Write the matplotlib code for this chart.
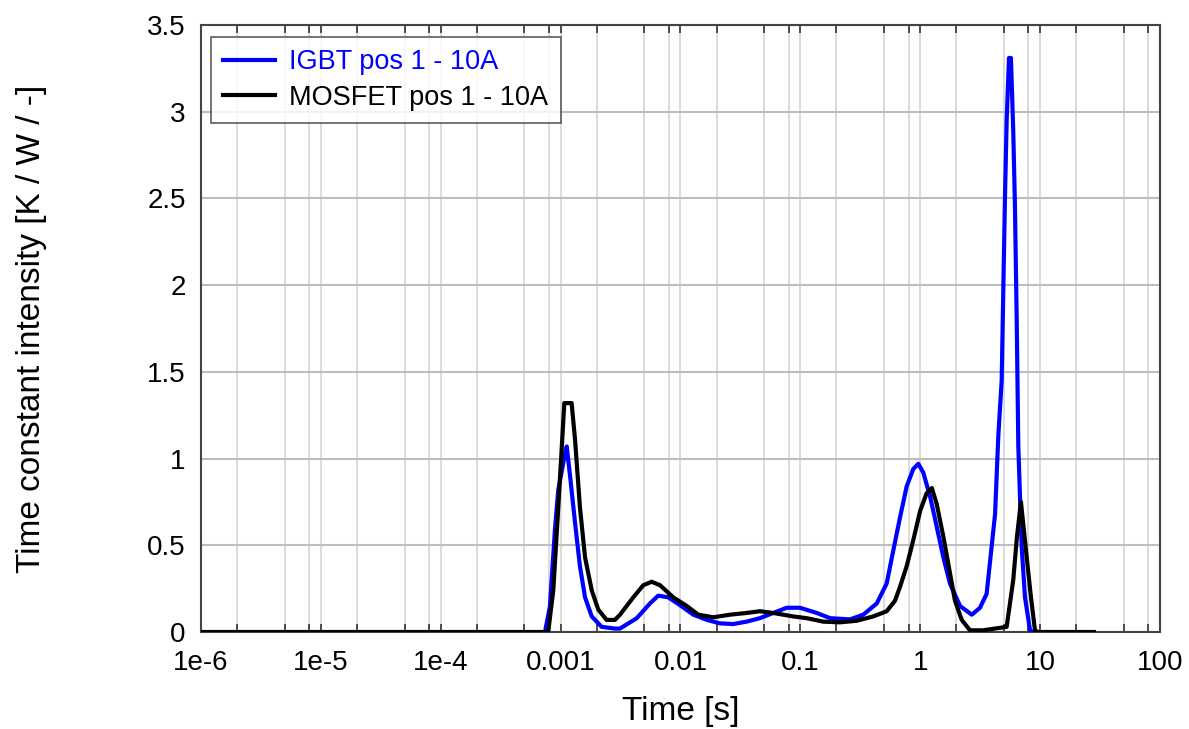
import numpy as np
import matplotlib
matplotlib.use("Agg")
import matplotlib.pyplot as plt
import matplotlib.ticker as ticker

plt.rcParams["font.family"] = ["Liberation Sans", "DejaVu Sans"]

# IGBT pos 1 - 10A  (time [s], intensity [K/W/-])
igbt_t = [1e-6, 7.41e-4, 8.14e-4, 8.97e-4, 9.57e-4, 1.09e-3, 1.125e-3, 1.20e-3, 1.32e-3,
          1.45e-3, 1.60e-3, 1.82e-3, 2.20e-3, 2.84e-3, 3.13e-3, 4.32e-3, 5.57e-3,
          6.53e-3, 7.91e-3, 9.91e-3, 1.28e-2, 1.66e-2, 2.14e-2, 2.75e-2, 3.56e-2,
          4.60e-2, 5.94e-2, 7.69e-2, 9.93e-2, 0.137, 0.177, 0.259, 0.335, 0.434,
          0.525, 0.596, 0.678, 0.771, 0.875, 0.964, 1.06, 1.21, 1.37, 1.56, 1.77,
          2.15, 2.69, 3.15, 3.58, 4.21, 4.48, 4.78, 5.09, 5.26, 5.50, 5.71, 5.97,
          6.17, 6.38, 6.58, 7.02, 7.48, 8.24, 8.73, 28]
igbt_y = [0, 0, 0.146, 0.59, 0.82, 1.03, 1.07, 0.90, 0.63,
          0.38, 0.20, 0.09, 0.03, 0.02, 0.02, 0.08, 0.165,
          0.21, 0.20, 0.155, 0.10, 0.07, 0.05, 0.046, 0.06,
          0.08, 0.11, 0.14, 0.14, 0.11, 0.08, 0.073, 0.10, 0.165,
          0.28, 0.47, 0.66, 0.84, 0.94, 0.97, 0.92, 0.78, 0.61, 0.43, 0.28,
          0.15, 0.10, 0.14, 0.22, 0.68, 1.13, 1.45, 2.5, 2.95, 3.31, 3.31, 2.89,
          2.45, 1.8, 1.07, 0.49, 0.2, 0.01, 0, 0]

# MOSFET pos 1 - 10A
mosfet_t = [1e-6, 7.88e-4, 8.69e-4, 9.57e-4, 1.02e-3, 1.074e-3, 1.236e-3, 1.32e-3,
            1.45e-3, 1.60e-3, 1.82e-3, 2.06e-3, 2.42e-3, 2.84e-3, 3.13e-3, 4.04e-3,
            4.90e-3, 5.75e-3, 6.75e-3, 8.71e-3, 1.13e-2, 1.41e-2, 1.88e-2, 2.59e-2,
            3.56e-2, 4.60e-2, 5.94e-2, 8.73e-2, 0.113, 0.155, 0.214, 0.295, 0.406,
            0.525, 0.615, 0.678, 0.771, 0.875, 1.0, 1.13, 1.25, 1.37, 1.56, 1.77,
            1.95, 2.22, 2.60, 3.34, 5.26, 5.97, 6.41, 6.92, 7.73, 8.39, 9.06, 9.6, 28]
mosfet_y = [0, 0, 0.24, 0.72, 1.05, 1.32, 1.32, 1.11,
            0.72, 0.43, 0.24, 0.13, 0.07, 0.07, 0.10, 0.20,
            0.27, 0.29, 0.27, 0.20, 0.15, 0.10, 0.085, 0.10,
            0.11, 0.12, 0.11, 0.09, 0.08, 0.06, 0.056, 0.065, 0.09,
            0.12, 0.18, 0.26, 0.38, 0.53, 0.70, 0.80, 0.83, 0.74, 0.55, 0.34,
            0.18, 0.07, 0.01, 0.01, 0.03, 0.30, 0.55, 0.75, 0.43, 0.2, 0.01, 0, 0]

x_ticks = [1e-6, 1e-5, 1e-4, 1e-3, 1e-2, 1e-1, 1, 10, 100]
x_labels = ["1e-6", "1e-5", "1e-4", "0.001", "0.01", "0.1", "1", "10", "100"]
y_ticks = [0, 0.5, 1, 1.5, 2, 2.5, 3, 3.5]
y_labels = ["0", "0.5", "1", "1.5", "2", "2.5", "3", "3.5"]

fig = plt.figure(figsize=(11.89, 7.29), dpi=100)
ax = fig.add_axes([0.169, 0.133, 0.8066, 0.8327])

ax.plot(igbt_t, igbt_y, color="#0000ff", lw=3.0, label="IGBT pos 1 - 10A", zorder=3)
ax.plot(mosfet_t, mosfet_y, color="black", lw=3.0, label="MOSFET pos 1 - 10A", zorder=4)

ax.set_xscale("log")
ax.set_xlim(1e-6, 100)
ax.set_ylim(0, 3.5)

ax.xaxis.set_major_locator(ticker.FixedLocator(x_ticks))
ax.xaxis.set_major_formatter(ticker.FixedFormatter(x_labels))
ax.xaxis.set_minor_locator(ticker.LogLocator(base=10, subs=(2, 5, 8), numticks=20))
ax.xaxis.set_minor_formatter(ticker.NullFormatter())
ax.set_yticks(y_ticks)
ax.set_yticklabels(y_labels)

ax.tick_params(axis="x", which="both", direction="in", top=True, bottom=True,
               length=6, width=1.2, color="#333333", labelsize=20, pad=13)
ax.tick_params(axis="y", which="both", direction="in", left=True, right=False,
               length=0, labelsize=20, pad=11)

ax.grid(axis="x", which="both", color="#d9d9d9", lw=1.3)
ax.grid(axis="y", which="major", color="#bdbdbd", lw=1.5)
ax.set_axisbelow(True)

for s in ax.spines.values():
    s.set_color("#444444")
    s.set_linewidth(1.5)

ax.set_xlabel("Time [s]", fontsize=24)
ax.set_ylabel("Time constant intensity [K / W / -]", fontsize=24)
ax.xaxis.set_label_coords(0.5, -0.105)
ax.yaxis.set_label_coords(-0.16, 0.5)

leg = ax.legend(loc="upper left", bbox_to_anchor=(0.0104, 0.98), fontsize=19.5,
                frameon=True, fancybox=False, edgecolor="#333333", handlelength=1.9,
                borderpad=0.45, labelspacing=0.35, handletextpad=0.55,
                borderaxespad=0)
leg.get_frame().set_linewidth(1.2)
leg.texts[0].set_color("#0000ff")

fig.savefig("out.png", dpi=100)
